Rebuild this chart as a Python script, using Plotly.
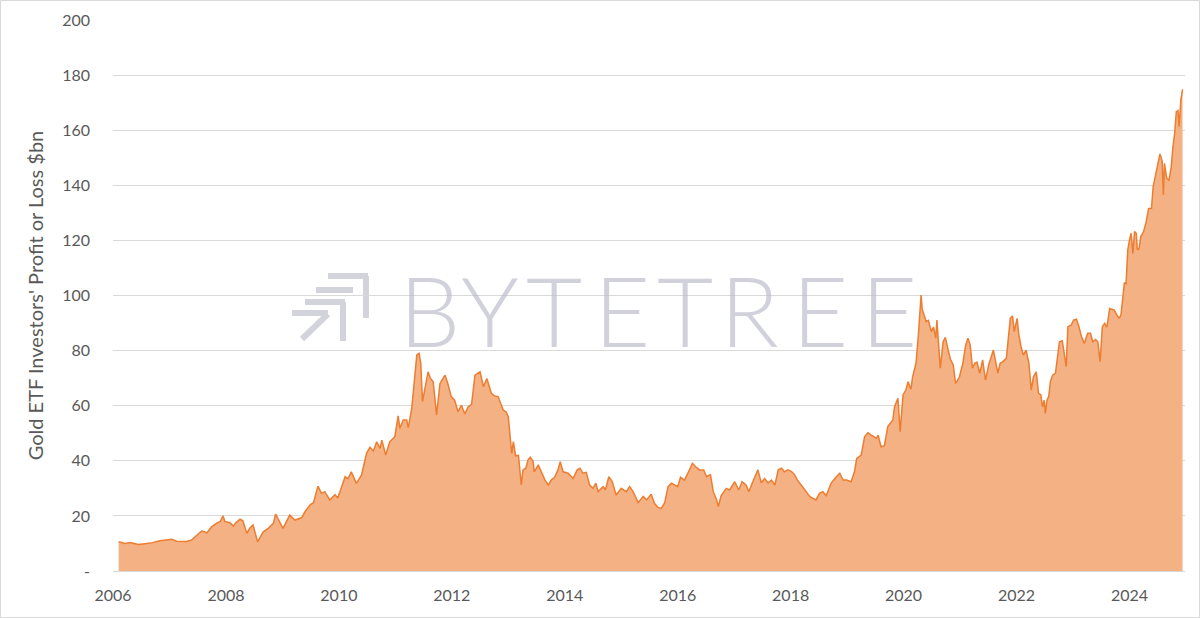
import plotly.graph_objects as go

# ---- data (decimal year, $bn) ----
years = [
    2006.10, 2006.21, 2006.30, 2006.45, 2006.53, 2006.70, 2006.83, 2007.04, 2007.13, 2007.30,
    2007.39, 2007.48, 2007.57, 2007.62, 2007.66, 2007.75, 2007.83, 2007.90, 2007.95, 2007.98,
    2008.07, 2008.13, 2008.17, 2008.25, 2008.30, 2008.37, 2008.42, 2008.48, 2008.56, 2008.60,
    2008.66, 2008.75, 2008.84, 2008.88, 2008.93, 2009.01, 2009.13, 2009.22, 2009.34, 2009.40,
    2009.49, 2009.55, 2009.63, 2009.69, 2009.75, 2009.84, 2009.93, 2009.98, 2010.05, 2010.11,
    2010.16, 2010.22, 2010.31, 2010.40, 2010.49, 2010.55, 2010.61, 2010.67, 2010.73, 2010.76,
    2010.83, 2010.90, 2010.99, 2011.05, 2011.08, 2011.14, 2011.20, 2011.23, 2011.29, 2011.35,
    2011.38, 2011.42, 2011.45, 2011.48, 2011.52, 2011.58, 2011.62, 2011.67, 2011.73, 2011.79,
    2011.88, 2011.93, 2011.99, 2012.05, 2012.11, 2012.17, 2012.23, 2012.29, 2012.35, 2012.41,
    2012.50, 2012.56, 2012.62, 2012.70, 2012.76, 2012.82, 2012.91, 2012.96, 2013.00, 2013.04,
    2013.06, 2013.09, 2013.13, 2013.18, 2013.23, 2013.26, 2013.31, 2013.35, 2013.39, 2013.44,
    2013.46, 2013.53, 2013.59, 2013.65, 2013.71, 2013.76, 2013.82, 2013.88, 2013.92, 2013.97,
    2014.06, 2014.15, 2014.22, 2014.27, 2014.32, 2014.38, 2014.44, 2014.50, 2014.55, 2014.59,
    2014.68, 2014.72, 2014.78, 2014.84, 2014.91, 2015.00, 2015.09, 2015.15, 2015.21, 2015.30,
    2015.39, 2015.45, 2015.53, 2015.59, 2015.65, 2015.71, 2015.77, 2015.83, 2015.89, 2015.95,
    2016.00, 2016.05, 2016.12, 2016.18, 2016.26, 2016.33, 2016.39, 2016.46, 2016.51, 2016.58,
    2016.63, 2016.69, 2016.72, 2016.77, 2016.86, 2016.92, 2017.01, 2017.08, 2017.14, 2017.21,
    2017.26, 2017.33, 2017.42, 2017.48, 2017.54, 2017.60, 2017.66, 2017.72, 2017.78, 2017.84,
    2017.89, 2017.95, 2018.01, 2018.07, 2018.12, 2018.21, 2018.34, 2018.39, 2018.45, 2018.51,
    2018.57, 2018.63, 2018.72, 2018.81, 2018.87, 2018.93, 2018.99, 2019.07, 2019.13, 2019.17,
    2019.25, 2019.31, 2019.37, 2019.42, 2019.46, 2019.52, 2019.55, 2019.60, 2019.66, 2019.72,
    2019.81, 2019.84, 2019.90, 2019.94, 2019.99, 2020.04, 2020.08, 2020.13, 2020.16, 2020.22,
    2020.26, 2020.31, 2020.33, 2020.37, 2020.40, 2020.44, 2020.49, 2020.53, 2020.57, 2020.59,
    2020.62, 2020.65, 2020.70, 2020.74, 2020.79, 2020.83, 2020.88, 2020.92, 2020.95, 2020.99,
    2021.05, 2021.10, 2021.14, 2021.18, 2021.22, 2021.26, 2021.30, 2021.35, 2021.40, 2021.45,
    2021.51, 2021.55, 2021.59, 2021.63, 2021.67, 2021.71, 2021.76, 2021.82, 2021.85, 2021.89,
    2021.93, 2021.96, 2022.01, 2022.04, 2022.08, 2022.12, 2022.17, 2022.22, 2022.26, 2022.30,
    2022.35, 2022.39, 2022.43, 2022.46, 2022.49, 2022.51, 2022.54, 2022.57, 2022.60, 2022.64,
    2022.69, 2022.73, 2022.76, 2022.81, 2022.85, 2022.88, 2022.91, 2022.97, 2023.01, 2023.06,
    2023.10, 2023.15, 2023.20, 2023.26, 2023.31, 2023.35, 2023.40, 2023.44, 2023.48, 2023.52,
    2023.56, 2023.60, 2023.65, 2023.69, 2023.73, 2023.78, 2023.82, 2023.85, 2023.88, 2023.91,
    2023.94, 2023.97, 2024.00, 2024.03, 2024.06, 2024.09, 2024.12, 2024.14, 2024.17, 2024.20,
    2024.25, 2024.29, 2024.34, 2024.39, 2024.42, 2024.46, 2024.50, 2024.54, 2024.58, 2024.60,
    2024.62, 2024.66, 2024.70, 2024.74, 2024.77, 2024.80, 2024.83, 2024.86, 2024.88, 2024.91,
    2024.94,
]
profit_bn = [
    10.6, 10.0, 10.3, 9.6, 9.8, 10.3, 11.0, 11.5, 10.8, 10.7,
    11.2, 12.7, 14.5, 14.3, 13.8, 16.1, 17.3, 18.0, 20.0, 18.0,
    17.5, 16.3, 17.4, 18.8, 18.2, 13.7, 15.5, 16.7, 10.6, 12.0,
    14.2, 15.5, 17.3, 20.7, 18.5, 15.5, 20.3, 18.5, 19.3, 21.5,
    24.0, 24.8, 30.8, 28.2, 28.8, 25.8, 27.7, 26.5, 30.6, 34.2,
    33.5, 36.0, 31.8, 34.8, 42.7, 44.9, 43.5, 46.9, 44.5, 47.5,
    42.1, 46.9, 48.7, 56.3, 51.8, 54.8, 54.8, 52.0, 59.0, 70.5,
    78.4, 79.0, 75.4, 61.5, 65.7, 72.3, 70.0, 68.7, 56.6, 68.1,
    71.1, 68.0, 63.3, 62.0, 57.8, 60.2, 57.0, 59.6, 60.5, 71.1,
    72.3, 66.9, 69.9, 64.5, 63.5, 63.3, 58.4, 57.8, 56.0, 47.5,
    42.7, 47.0, 41.8, 42.0, 31.2, 36.7, 37.3, 40.3, 41.3, 39.7,
    36.0, 38.5, 35.5, 33.0, 31.2, 33.0, 34.0, 36.7, 39.7, 36.0,
    35.5, 33.6, 36.7, 37.3, 35.5, 35.8, 31.2, 30.0, 31.9, 28.8,
    30.6, 29.5, 34.2, 32.5, 27.6, 30.0, 28.8, 30.6, 28.8, 24.8,
    27.1, 25.8, 27.9, 24.5, 23.1, 22.7, 24.8, 30.6, 31.9, 31.3,
    30.6, 34.0, 33.0, 35.5, 39.1, 37.6, 36.7, 36.7, 34.2, 35.0,
    28.8, 25.8, 23.4, 27.4, 30.0, 29.4, 32.4, 29.4, 32.4, 31.2,
    28.8, 32.4, 36.7, 32.0, 33.6, 32.0, 33.0, 31.2, 36.7, 37.3,
    36.0, 36.7, 36.2, 35.0, 33.0, 30.6, 27.0, 26.4, 25.8, 28.2,
    28.8, 27.4, 32.0, 34.2, 35.5, 33.0, 33.0, 32.4, 36.0, 40.9,
    42.1, 48.8, 50.2, 49.4, 48.8, 48.2, 49.3, 45.1, 45.5, 52.4,
    54.8, 59.6, 62.7, 50.6, 63.9, 65.7, 68.7, 66.0, 70.5, 75.4,
    85.1, 100.2, 95.0, 92.3, 90.5, 91.0, 86.9, 88.5, 84.5, 91.1,
    81.4, 73.6, 83.2, 84.8, 80.2, 76.8, 74.8, 68.1, 69.0, 70.5,
    75.4, 82.0, 84.5, 82.0, 73.6, 75.4, 75.8, 71.8, 76.6, 69.3,
    75.0, 77.8, 80.2, 76.0, 71.8, 75.4, 76.0, 77.2, 83.8, 91.7,
    92.6, 86.9, 91.7, 86.0, 81.4, 78.4, 80.2, 75.4, 65.7, 70.5,
    72.3, 64.5, 64.0, 59.6, 62.0, 57.2, 62.0, 63.3, 68.7, 71.1,
    71.8, 79.0, 83.2, 83.6, 77.8, 74.2, 88.7, 89.3, 91.1, 91.4,
    89.0, 85.1, 82.6, 86.3, 86.3, 83.2, 84.0, 83.2, 76.0, 88.7,
    89.9, 88.5, 95.3, 95.0, 94.7, 92.9, 91.7, 93.0, 98.4, 104.5,
    104.3, 116.5, 120.1, 122.6, 115.3, 123.2, 122.6, 116.5, 117.0, 121.3,
    123.2, 126.2, 131.6, 131.6, 139.5, 143.7, 148.6, 151.4, 148.8, 136.5,
    148.0, 142.5, 141.9, 146.7, 154.0, 158.8, 166.7, 167.1, 161.3, 171.0,
    174.8,
]

x_tick_years = [2006, 2008, 2010, 2012, 2014, 2016, 2018, 2020, 2022, 2024]
x_tick_labels = [str(y) for y in x_tick_years]
y_tick_values = [0, 20, 40, 60, 80, 100, 120, 140, 160, 180, 200]
y_tick_labels = ["-", "20", "40", "60", "80", "100", "120", "140", "160", "180", "200"]
y_title = "Gold ETF Investors' Profit or Loss $bn"
watermark_letters = ["B", "Y", "T", "E", "T", "R", "E", "E"]

# ---- layout geometry ----
W, H = 1200, 618
ML, MR, MT, MB = 113, 15, 20, 47
PW, PH = W - ML - MR, H - MT - MB


def px(x):
    return (x - ML) / PW


def py(y):
    return (H - MB - y) / PH


TEXT = "#595959"
GRID = "#D9D9D9"
WM = "rgba(185,185,200,0.65)"

fig = go.Figure()
fig.add_trace(go.Scatter(
    x=years, y=profit_bn, mode="lines", fill="tozeroy",
    line=dict(color="#ED7D31", width=1.5),
    fillcolor="#F4B183", hoverinfo="skip", showlegend=False,
))

# watermark logo strokes (pixel positions)
logo = [
    (292, 313, 328, 313), (328, 314, 302, 339), (343, 302, 343, 341),
    (305, 302, 345, 302), (316, 290, 353, 290), (328, 276, 368, 276),
    (366, 276, 366, 318),
]
shapes = []
for x0, y0, x1, y1 in logo:
    shapes.append(dict(type="line", xref="paper", yref="paper",
                       x0=px(x0), y0=py(y0), x1=px(x1), y1=py(y1),
                       line=dict(color="#D3D3DB", width=6), layer="below"))
# chart border
shapes.append(dict(type="rect", xref="paper", yref="paper",
                   x0=px(0.5), x1=px(W - 0.5), y0=py(H - 0.5), y1=py(0.5),
                   line=dict(color=GRID, width=1), layer="below"))

letter_centers = [429, 490, 553.5, 622, 685, 749.5, 820, 889]
annotations = []
for ch, cx in zip(watermark_letters, letter_centers):
    annotations.append(dict(text=ch, xref="paper", yref="paper",
                            x=px(cx), y=py(309), xanchor="center", yanchor="middle",
                            showarrow=False,
                            font=dict(family="Lato", size=97, color=WM, weight=300)))

fig.update_layout(
    width=W, height=H,
    margin=dict(l=ML, r=MR, t=MT, b=MB),
    paper_bgcolor="white", plot_bgcolor="white",
    font=dict(family="Lato", color=TEXT, size=16),
    shapes=shapes, annotations=annotations,
    xaxis=dict(range=[2006, 2006 + PW / 56.47], tickvals=x_tick_years, ticktext=x_tick_labels,
               showgrid=False, zeroline=False, showline=True, linecolor=GRID, linewidth=1,
               ticks="", tickfont=dict(size=16, color=TEXT), ticklabelstandoff=10,
               automargin=False),
    yaxis=dict(range=[0, 200], tickvals=y_tick_values, ticktext=y_tick_labels,
               showgrid=True, gridcolor=GRID, gridwidth=1, zeroline=False,
               showline=False, ticks="", tickfont=dict(size=16, color=TEXT),
               ticklabelstandoff=22, automargin=False,
               title=dict(text=y_title, font=dict(size=20, color=TEXT), standoff=13)),
)

fig.write_html("out.html", post_script="document.body.style.margin='0px';",
               config={"displayModeBar": False})
